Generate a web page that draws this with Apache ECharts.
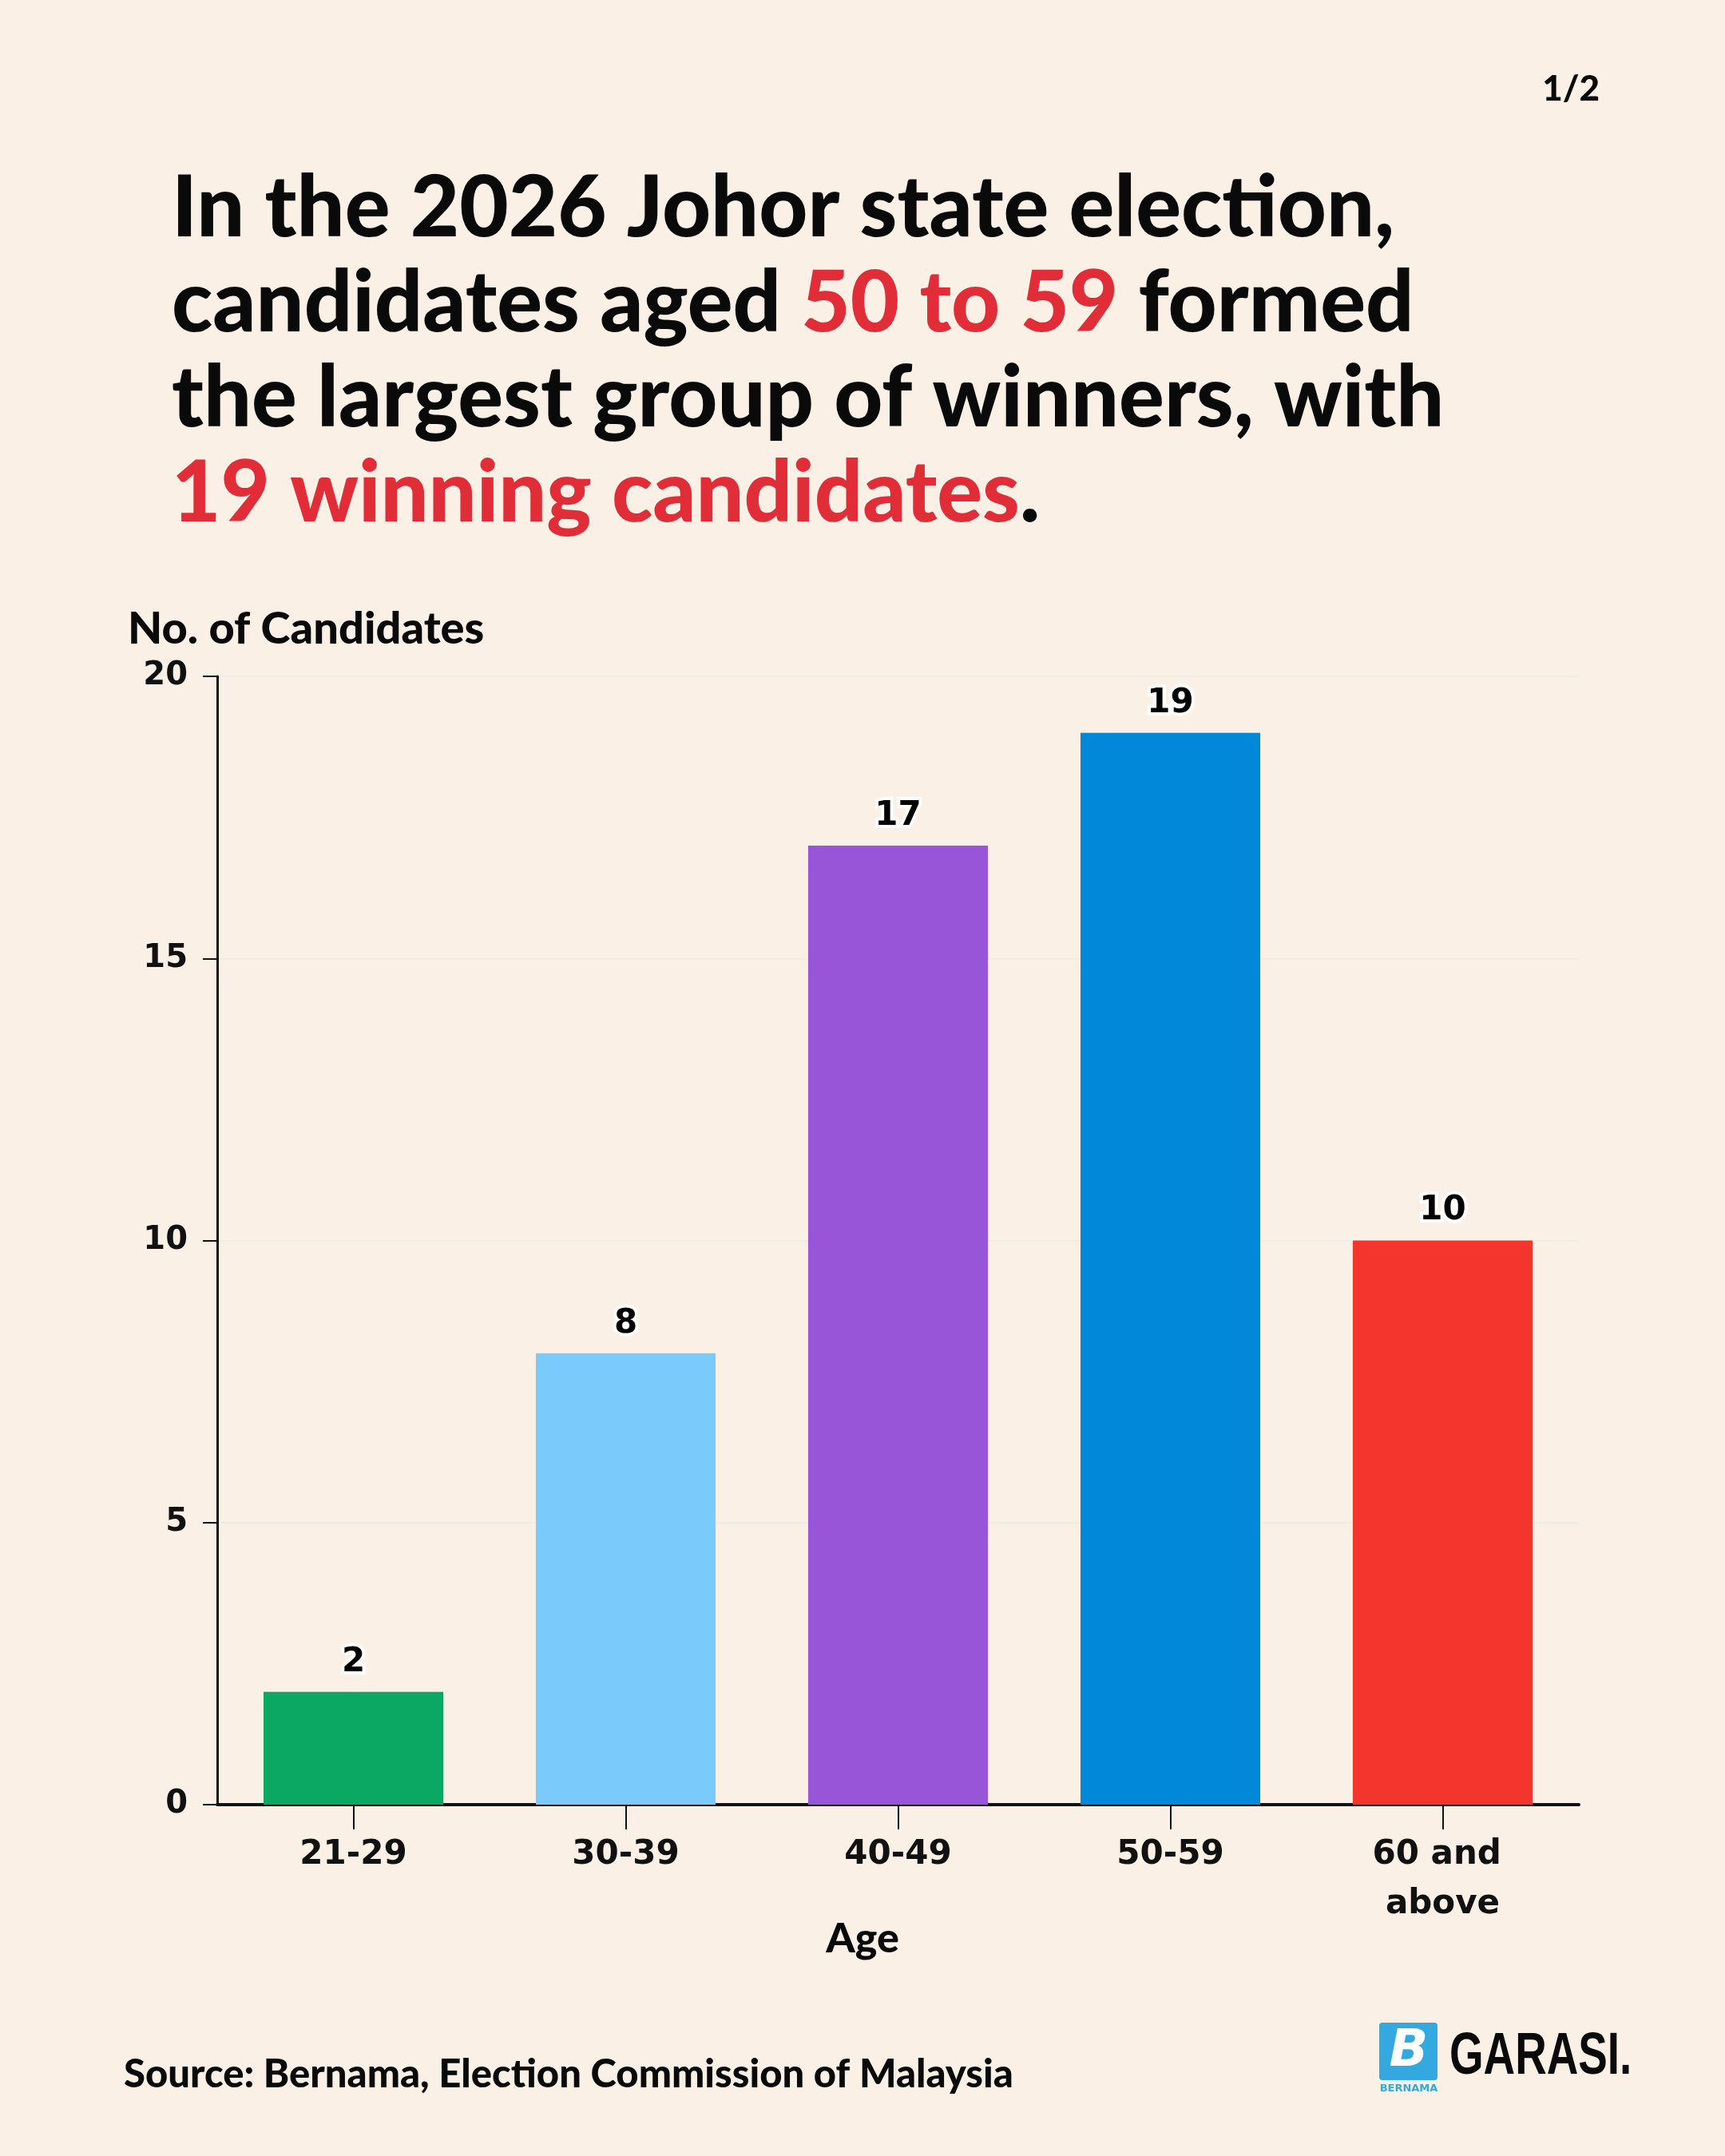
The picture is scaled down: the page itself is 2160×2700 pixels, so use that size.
<!DOCTYPE html>
<html>
<head>
<meta charset="utf-8">
<script src="https://cdn.jsdelivr.net/npm/echarts@6/dist/echarts.min.js"></script>
<style>
html,body{margin:0;padding:0;background:#faf0e6;}
#chart{width:2160px;height:2700px;}
</style>
</head>
<body>
<div id="chart"></div>
<script>
const categories = ['21-29', '30-39', '40-49', '50-59', '60 and above'];
const values = [2, 8, 17, 19, 10];
const barColors = ['#0aa862', '#7acbfc', '#9955d7', '#0288d8', '#f4352d'];
const yTicks = { min: 0, max: 20, interval: 5 };

const TITLE_FONT = 'Lato';
const chart = echarts.init(document.getElementById('chart'), null, { renderer: 'canvas' });

const option = {
  backgroundColor: '#faf0e6',
  animation: false,
  grid: { left: 272, right: 183, top: 847, bottom: 440, containLabel: false },
  xAxis: {
    type: 'category',
    data: categories,
    axisLine: { show: true, lineStyle: { color: '#111', width: 4 } },
    axisTick: { show: true, alignWithLabel: true, length: 31, lineStyle: { color: '#111', width: 2 } },
    axisLabel: {
      color: '#111', fontFamily: 'DejaVu Sans', fontWeight: 'bold', fontSize: 42,
      margin: 32, lineHeight: 62, width: 200, overflow: 'break', interval: 0
    }
  },
  yAxis: {
    type: 'value',
    min: yTicks.min, max: yTicks.max, interval: yTicks.interval,
    axisLine: { show: true, lineStyle: { color: '#111', width: 3 } },
    axisTick: { show: true, length: 18, lineStyle: { color: '#111', width: 2 } },
    axisLabel: { color: '#111', fontFamily: 'DejaVu Sans', fontWeight: 'bold', fontSize: 40, margin: 37 },
    splitLine: { show: true, lineStyle: { color: '#f0ece8', width: 2 } }
  },
  series: [{
    type: 'bar',
    data: values.map((v, i) => ({ value: v, itemStyle: { color: barColors[i] } })),
    barWidth: '66%',
    label: {
      show: true, position: 'top', distance: 16,
      color: '#000', fontFamily: 'DejaVu Sans', fontWeight: 'bold', fontSize: 42,
      textBorderColor: '#ffffff', textBorderWidth: 8
    }
  }],
  graphic: [
    {
      type: 'text', left: 215, top: 209,
      style: {
        text: '{b|In the 2026 Johor state election,}\n{b|candidates aged }{r|50 to 59}{b| formed}\n{b|the largest group of winners, with}\n{r|19 winning candidates}{b|.}',
        rich: {
          b: { fontFamily: TITLE_FONT, fontWeight: 900, fontSize: 106, lineHeight: 119, fill: '#0a0a0a', color: '#0a0a0a' },
          r: { fontFamily: TITLE_FONT, fontWeight: 900, fontSize: 106, lineHeight: 119, fill: '#e02d38', color: '#e02d38' }
        }
      }
    },
    {
      type: 'text', right: 157, top: 90,
      style: { text: '1/2', fontFamily: TITLE_FONT, fontWeight: 900, fontSize: 44, fill: '#0a0a0a' }
    },
    {
      type: 'text', x: 160, y: 788,
      style: { text: 'No. of Candidates', fontFamily: TITLE_FONT, fontWeight: 900, fontSize: 56, fill: '#0a0a0a', verticalAlign: 'middle' }
    },
    {
      type: 'text', x: 1080, y: 2428,
      style: { text: 'Age', fontFamily: TITLE_FONT, fontWeight: 900, fontSize: 52, fill: '#0a0a0a', align: 'center', verticalAlign: 'middle' }
    },
    {
      type: 'text', x: 155, y: 2598,
      style: { text: 'Source: Bernama, Election Commission of Malaysia', fontFamily: TITLE_FONT, fontWeight: 900, fontSize: 49, fill: '#0a0a0a', verticalAlign: 'middle' }
    },
    {
      type: 'rect', shape: { x: 1727, y: 2533, width: 73, height: 72, r: 4 },
      style: { fill: '#33a9e0' }
    },
    {
      type: 'text', x: 1764, y: 2570,
      style: { text: 'B', fontFamily: 'DejaVu Sans', fontWeight: 'bold', fontStyle: 'italic', fontSize: 64, fill: '#ffffff', align: 'center', verticalAlign: 'middle' }
    },
    {
      type: 'text', x: 1764, y: 2616,
      style: { text: 'BERNAMA', fontFamily: 'DejaVu Sans', fontWeight: 'bold', fontSize: 13, fill: '#33a9e0', align: 'center', verticalAlign: 'middle' }
    },
    {
      type: 'text', x: 1815, y: 2577, scaleX: 0.74,
      style: { text: 'GARASI.', fontFamily: 'Liberation Sans', fontWeight: 'bold', fontSize: 74, fill: '#0a0a0a', verticalAlign: 'middle' }
    }
  ]
};
chart.setOption(option);
</script>
</body>
</html>
